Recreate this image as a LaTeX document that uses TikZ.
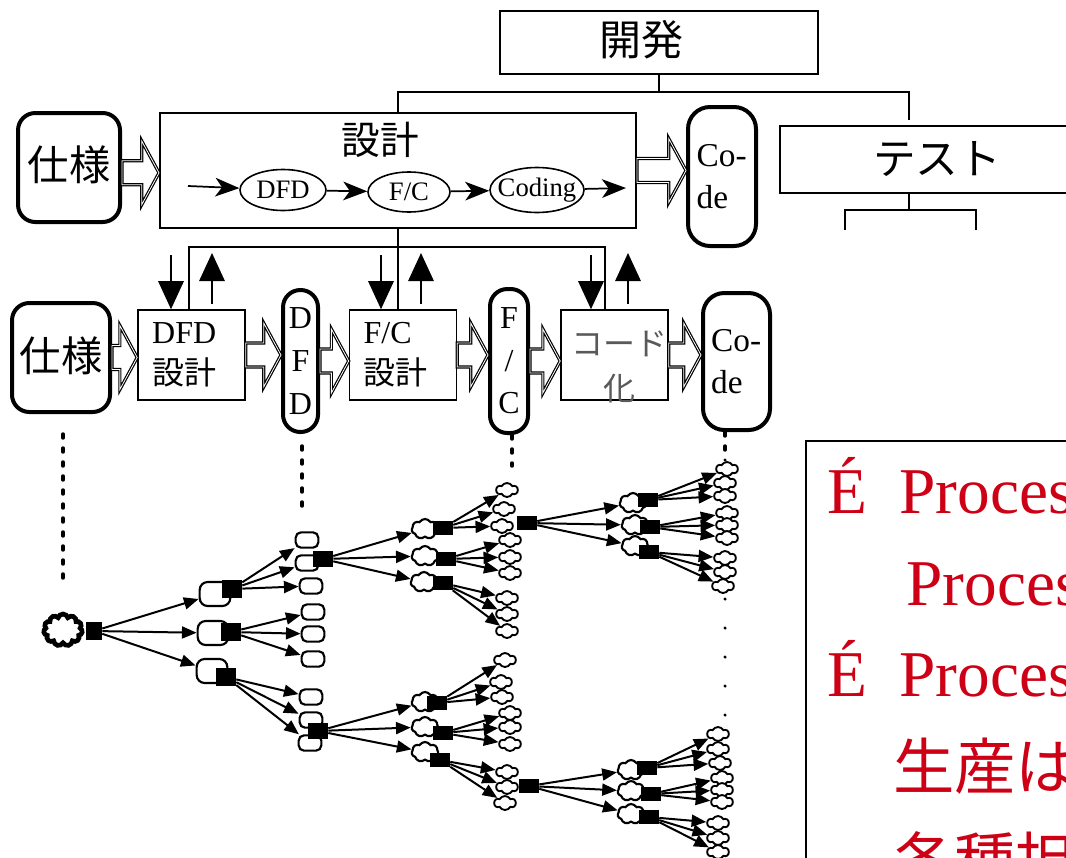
\documentclass[tikz,border=0pt]{standalone}
\usepackage{fontspec}
\setmainfont{Liberation Serif}
\newfontfamily\jp{Noto Sans CJK JP}
\usepackage{xcolor}
\usepackage{tikz}
\usetikzlibrary{arrows.meta,positioning,calc,shapes.geometric,shapes.symbols}
\definecolor{slidered}{RGB}{206,0,22}
\newcommand{\fs}[2]{\fontsize{#1}{#2}\selectfont}

\begin{document}
\begin{tikzpicture}[x=0.75pt, y=-0.75pt,
  >={Stealth[length=18pt,width=14pt,inset=5pt]},
  box/.style={draw, line width=1.5pt, inner sep=0pt},
  rbox/.style={draw, line width=3pt, rounded corners=13pt, inner sep=0pt},
  capsule/.style={draw, line width=3pt, rounded corners=13pt, inner sep=0pt, align=center, font=\fs{24}{32}},
  ell/.style={draw, ellipse, line width=1.2pt, inner sep=0pt, font=\fs{20}{24}},
  fat/.style={fill=white, line width=0.9pt, double=white, double distance=0.6pt,
              to path={let \p1=(\tikztostart), \p2=(\tikztotarget) in
                (\x1,\y1+9pt) -- (\x2-13pt,\y1+9pt) -- (\x2-13pt,\y1+24pt) -- (\x2,\y1)
                -- (\x2-13pt,\y1-24pt) -- (\x2-13pt,\y1-9pt) -- (\x1,\y1-9pt) -- cycle}},
  bus/.style={line width=2.2pt},
  bigtip/.style={line width=1.5pt, -{Triangle[length=21pt,width=19pt]}},
  dots/.style={line width=2.6pt, line cap=round, dash pattern=on 3pt off 7.5pt},
  sq/.style={fill=black, inner sep=0pt, minimum width=15pt, minimum height=12pt},
  onode/.style={draw, fill=white, line width=1.6pt, rounded corners=6pt, minimum width=23pt, minimum height=18pt, inner sep=0pt},
  snode/.style={draw, fill=white, line width=1.6pt, rounded corners=4pt, minimum width=17pt, minimum height=11.5pt, inner sep=0pt},
  cnode/.style={draw, fill=white, cloud, cloud puffs=7, cloud puff arc=120, cloud ignores aspect, line width=1.6pt, minimum width=20pt, minimum height=15pt, inner sep=0pt},
  leaf/.style={cnode, cloud puffs=6, line width=1.4pt, minimum width=16pt, minimum height=10.5pt},
  rootn/.style={draw, fill=white, cloud, cloud puffs=11, cloud ignores aspect, line width=3.5pt, minimum width=29pt, minimum height=24pt, inner sep=0pt},
  tarr/.style={line width=1.5pt, -{Triangle[length=11pt,width=9pt]}},
  redtxt/.style={text=slidered, inner sep=0pt, anchor=base west, font=\fs{49}{55}},
  redjp/.style={redtxt, font=\fs{46}{52}\jp}]
\useasboundingbox (0,0) rectangle (1066,857);
\clip (0,0) rectangle (1066,857);

\node[box, minimum width=238.5pt, minimum height=47.25pt] (dev) at (659,42.5) {};
\node[font=\fs{31.5}{36}\jp] (devt) at (641,40) {開発};
\node[box, minimum width=357pt, minimum height=86.25pt] (design) at (398,170.5) {};
\node[font=\fs{29}{34}\jp] (designt) at (380,140) {設計};
\node[box, minimum width=235.5pt, minimum height=50.25pt, font=\fs{32}{36}\jp] (test) at (937,159.5) {テスト};
\node[rbox, minimum width=76.5pt, minimum height=81.75pt, font=\fs{31}{36}\jp] (spec1) at (69,167.5) {\raisebox{7pt}{仕様}};
\node[rbox, rounded corners=16.5pt, minimum width=51pt, minimum height=104.25pt, text width=38pt, align=left, font=\fs{25}{32}] (code1) at (722,176.5) {Co-\\de};

\node[ell, minimum width=64.5pt, minimum height=30.75pt] (e1) at (283,190) {\makebox[0pt]{DFD}};
\node[ell, minimum width=61.5pt, minimum height=30pt] (e2) at (409,192) {\makebox[0pt]{F/C}};
\node[ell, minimum width=70.5pt, minimum height=33.75pt] (e3) at (537,190) {\makebox[0pt]{Coding}};
\coordinate (ein) at (188,186);
\coordinate (eout) at (626,188);
\draw[->, line width=1.3pt] (ein) -- (e1);
\draw[->, line width=1.3pt] (e1) -- (e2);
\draw[->, line width=1.3pt] (e2) -- (e3);
\draw[->, line width=1.3pt] (e3) -- (eout);

\draw[fat] ([yshift=-4pt]spec1.east) to (design.west);
\draw[fat] (design.east) to (code1.west);

\coordinate (tbus) at (909,92);
\draw[bus] (dev.south) -- (dev.south |- tbus);
\draw[bus] (design.north) |- (tbus) -- ([yshift=4pt]test.north -| tbus);
\coordinate (tmid) at (909,210);
\coordinate (tl) at (845,230);
\coordinate (tr) at (976,230);
\draw[bus] (test.south -| tmid) -- (tmid);
\draw[bus] (tl) |- (tmid) -| (tr);

\node[rbox, minimum width=73.5pt, minimum height=81.75pt, font=\fs{31}{36}\jp] (spec2) at (61,357.5) {\raisebox{5pt}{仕様}};
\node[box, line width=1.2pt, minimum width=80.25pt, minimum height=67.5pt, text width=59pt, align=left, font=\fs{24}{31}] (dfdd) at (191.5,355) {DFD\\{\jp 設計}};
\node[capsule, minimum width=26.25pt, minimum height=106.5pt] (dfdc) at (300.5,361) {D\\F\\D};
\node[box, line width=1.2pt, minimum width=80.25pt, minimum height=67.5pt, text width=59pt, align=left, font=\fs{24}{31}] (fcd) at (403,355) {F/C\\{\jp 設計}};
\node[capsule, minimum width=28.5pt, minimum height=108pt] (fcc) at (509,361) {F\\/\\C};
\node[box, line width=1.2pt, minimum width=80.25pt, minimum height=67.5pt] (cod) at (614.5,355) {};
\node[text=black!65, align=center, font=\fs{24}{34}\jp] (codt) at (619,367) {コード\\化};
\node[rbox, rounded corners=16pt, minimum width=50.25pt, minimum height=102.75pt, text width=38pt, align=left, font=\fs{25}{32}] (code2) at (736.5,361.5) {Co-\\de};

\draw[fat] (spec2.east) to (dfdd.west);
\draw[fat] (dfdd.east) to (dfdc.west);
\draw[fat] (dfdc.east) to (fcd.west);
\draw[fat] (fcd.east) to (fcc.west);
\draw[fat] (fcc.east) to (cod.west);
\draw[fat] (cod.east) to (code2.west);

\draw[bus] (design.south) -- (design.south |- fcd.north);
\coordinate (hl) at (189,247);
\coordinate (hr) at (605,247);
\draw[bus] (dfdd.north -| hl) |- (hr) -- (cod.north -| hr);
\foreach \b/\d/\u in {dfdd/171/212, fcd/381/421, cod/591/628} {
  \coordinate (d\b) at (\d,255);
  \coordinate (u\b) at (\u,253);
  \draw[bigtip] (d\b) -- (\b.north -| d\b);
  \draw[bigtip, shorten <=4pt] (\b.north -| u\b) -- (u\b);
}

\coordinate (k1) at (63,585);
\coordinate (k2) at (302,512);
\coordinate (k3) at (512,466);
\coordinate (k4) at (725,460);
\draw[dots, shorten <=15pt] (spec2.south -| k1) -- (k1);
\draw[dots, shorten <=9pt] (dfdc.south -| k2) -- (k2);
\draw[dots] (fcc.south -| k3) -- (k3);
\draw[dots] (code2.south -| k4) -- (k4);
\foreach \y in {599,628,657,686,715} \fill (725,\y) circle (1.3pt);

\node[rootn] (r) at (63,630) {};
\node[sq, minimum width=12pt, minimum height=13pt] (rs) at (94,631) {};
\foreach \n/\x/\y/\sx/\sy in {1/215/594/232/589, 2/213/633/231/632, 3/212/671/226/677} {
  \node[onode] (n\n) at (\x,\y) {};
  \node[sq, minimum height=13pt] (s\n) at (\sx,\sy) {};
}
\foreach \n/\x/\y in {1/307/540, 2/307/563, 3/311/586, 4/313/612, 5/313/634, 6/313/659, 7/311/697, 8/311/720, 9/310/743}
  \node[snode] (m\n) at (\x,\y) {};
\node[sq] (t2) at (323,559) {};
\node[sq] (t9) at (318,731) {};

\foreach \n/\x/\y/\sx/\sy in {1/425/529/443/528, 2/425/556/446/559, 3/424/582/443/583} {
  \node[cnode] (u\n) at (\x,\y) {};
  \node[sq, minimum height=10.5pt] (us\n) at (\sx,\sy) {};
}
\foreach \n/\x/\y in {1/507/490, 2/504/509, 3/502/526, 4/510/540, 5/510/557, 6/510/573, 7/507/598, 8/507/614, 9/507/631}
  \node[leaf] (ul\n) at (\x,\y) {};
\node[sq, minimum height=11pt] (x1) at (527,523) {};
\foreach \n/\x/\y/\sx/\sy in {1/633/503/648/500, 2/635/525/650/527, 3/635/546/649/552} {
  \node[cnode] (v\n) at (\x,\y) {};
  \node[sq, minimum height=10.5pt] (vs\n) at (\sx,\sy) {};
}
\foreach \n/\x/\y in {1/727/469, 2/725/483, 3/725/496, 4/727/513, 5/727/525, 6/727/538, 7/725/558, 8/725/572, 9/723/586}
  \node[leaf] (vl\n) at (\x,\y) {};

\foreach \n/\x/\y/\sx/\sy in {1/425/702/437/703, 2/425/727/443/733, 3/425/752/440/760} {
  \node[cnode] (w\n) at (\x,\y) {};
  \node[sq, minimum height=10.5pt] (ws\n) at (\sx,\sy) {};
}
\foreach \n/\x/\y in {1/505/660, 2/501/682, 3/502/697, 4/510/713, 5/510/727, 6/510/744, 7/507/772, 8/507/787, 9/505/803}
  \node[leaf] (wl\n) at (\x,\y) {};
\node[sq, minimum height=11pt] (x2) at (529,786) {};
\foreach \n/\x/\y/\sx/\sy in {1/631/770/647/768, 2/631/791/651/794, 3/631/814/649/817} {
  \node[cnode] (z\n) at (\x,\y) {};
  \node[sq, minimum height=10.5pt] (zs\n) at (\sx,\sy) {};
}
\foreach \n/\x/\y in {1/718/734, 2/718/749, 3/720/763, 4/722/778, 5/722/790, 6/722/802, 7/718/823, 8/718/838, 9/718/852}
  \node[leaf] (zl\n) at (\x,\y) {};

\foreach \s/\t/\i/\j/\k in {rs/n/1/2/3, s1/m/1/2/3, s2/m/4/5/6, s3/m/7/8/9,
    t2/u/1/2/3, us1/ul/1/2/3, us2/ul/4/5/6, us3/ul/7/8/9,
    x1/v/1/2/3, vs1/vl/1/2/3, vs2/vl/4/5/6, vs3/vl/7/8/9,
    t9/w/1/2/3, ws1/wl/1/2/3, ws2/wl/4/5/6, ws3/wl/7/8/9,
    x2/z/1/2/3, zs1/zl/1/2/3, zs2/zl/4/5/6, zs3/zl/7/8/9}
  \foreach \c in {\i,\j,\k} \draw[tarr] (\s) -- (\t\c);

\node[draw, line width=1.5pt, anchor=north west, minimum width=225pt, minimum height=345pt, inner sep=0pt] (note) at (805,440) {};
\node[redtxt] (b1) at (827,513) {É};
\node[redtxt] (p1) at (899,513) {Process};
\node[redtxt] (p2) at (906,605) {Process};
\node[redtxt] (b2) at (827,696) {É};
\node[redtxt] (p3) at (899,696) {Process};
\node[redjp] (j1) at (893,789) {生産は};
\node[redjp] (j2) at (893,883) {各種担};
\end{tikzpicture}
\end{document}
